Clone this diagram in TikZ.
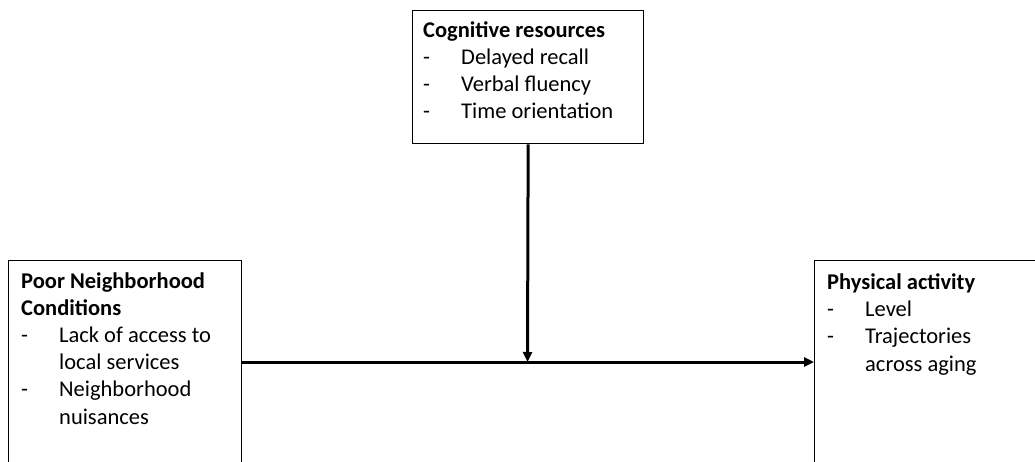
\documentclass[tikz,border=0pt]{standalone}
\usepackage{fontspec}
\setmainfont{Carlito}
\usetikzlibrary{arrows.meta}
\newcommand{\dashitem}[1]{\makebox[38pt][l]{-}#1}
\newcommand{\contline}[1]{\hspace*{38pt}#1}
\begin{document}
\begin{tikzpicture}[x=1pt,y=-1pt,
  boxstyle/.style={draw=black,line width=1.3pt,rectangle,inner sep=0pt},
  txt/.style={anchor=base west,inner sep=0pt,align=left,font=\fontsize{22.5}{27.2}\selectfont},
  conn/.style={line width=3pt,-{Triangle[length=10pt,width=9pt]}}]
\useasboundingbox (0,0) rectangle (1035,462);
\begin{scope}
\clip (0,0) rectangle (1035,462);
\node[boxstyle,minimum width=231pt,minimum height=133pt,anchor=north west] (top) at (412,10) {};
\node[boxstyle,minimum width=233pt,minimum height=230pt,anchor=north west] (left) at (8,260) {};
\node[boxstyle,minimum width=240pt,minimum height=230pt,anchor=north west] (right) at (814,260) {};
\node[txt] (toptxt) at (423,119) {\textbf{Cognitive resources}\\ \dashitem{Delayed recall}\\ \dashitem{Verbal fluency}\\ \dashitem{Time orientation}};
\node[txt] (lefttxt) at (21,424) {\textbf{Poor Neighborhood}\\ \textbf{Conditions}\\ \dashitem{Lack of access to}\\ \contline{local services}\\ \dashitem{Neighborhood}\\ \contline{nuisances}};
\node[txt] (righttxt) at (827,371) {\textbf{Physical activity}\\ \dashitem{Level}\\ \dashitem{Trajectories}\\ \contline{across aging}};
\coordinate (mid) at (527.5,362);
\draw[conn] (left.east |- mid) -- (right.west |- mid);
\draw[conn] (top.south) -- (mid);
\end{scope}
\end{tikzpicture}
\end{document}
